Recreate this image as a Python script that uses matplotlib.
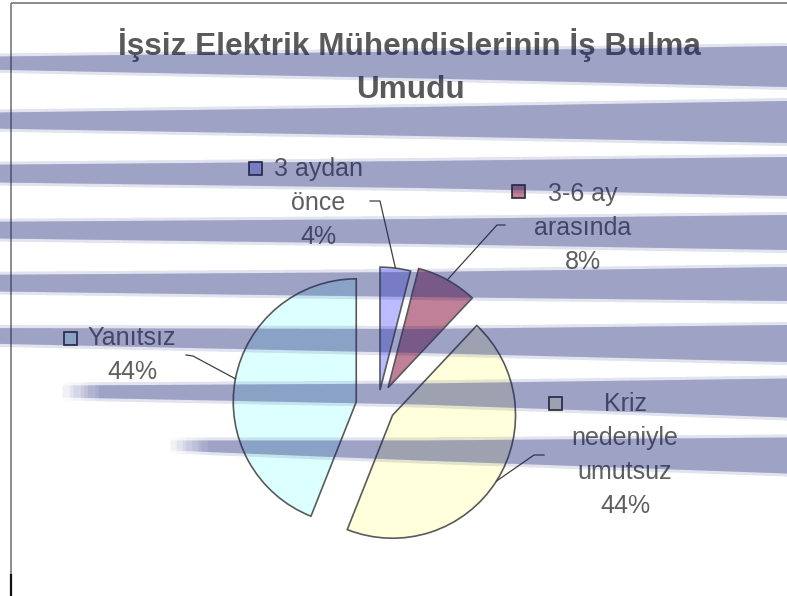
import matplotlib
matplotlib.use("Agg")
import matplotlib.pyplot as plt
from matplotlib.patches import Rectangle
import numpy as np

# ---------------- data ----------------
categories = ["3 aydan önce", "3-6 ay arasında", "Kriz nedeniyle umutsuz", "Yanıtsız"]
label_lines = [["3 aydan", "önce"], ["3-6 ay", "arasında"],
               ["Kriz", "nedeniyle", "umutsuz"], ["Yanıtsız"]]
values = [4, 8, 44, 44]
title_lines = ["İşsiz Elektrik Mühendislerinin İş Bulma", "Umudu"]

# ---------------- style / layout ----------------
colors = ["#BBBBFF", "#C08098", "#FFFFDC", "#DCFFFF"]
explode = [0.13, 0.17, 0.14, 0.18]
W, H, DPI = 787, 596, 100
R = 123            # pie radius in px
CX, CY = 378, 406  # pie centre in px (from top)
L = 1.55

# label layout (pixel coords from top-left)
label_pos = [(318, 176), (583, 201), (625, 411), (132, 345)]   # centre x, first baseline
key_pos = [(249, 162), (512, 185), (549, 397), (64, 332)]      # key top-left
elbow_pos = [((370, 201), (380, 201)), ((505, 225), (497, 225)),
             ((544, 455), (534, 455)), ((186, 355), (193, 356))]
LINE_H = 34

# background streaks: x0, (top,bot) at x0, xm, (top,bot) at xm, (top,bot) at right
streaks = [
    (-40, (57, 69), 450, (51, 79), (46, 87)),
    (-40, (113, 128), 420, (107, 136), (101, 143)),
    (-40, (165, 182), 420, (161, 188), (157, 196)),
    (-40, (222, 238), 420, (219, 244), (215, 250)),
    (-40, (275, 291), 420, (272, 297), (267, 301)),
    (-40, (328, 343), 420, (329, 353), (325, 362)),
    (62, (385, 397), 420, (383, 404), (378, 417)),
    (170, (440, 450), 420, (440, 460), (437, 473)),
]

font = ["Liberation Sans", "DejaVu Sans"]
TEXT_C = "#5F5F5F"

fig = plt.figure(figsize=(W / DPI, H / DPI), dpi=DPI, facecolor="white")

# ---------------- pie ----------------
size = 2 * L * R
ax = fig.add_axes([(CX - L * R) / W, (H - CY - L * R) / H, size / W, size / H])
wedges, _ = ax.pie(values, explode=explode, colors=colors, startangle=90,
                   counterclock=False, radius=1,
                   wedgeprops=dict(edgecolor="#5A5A5A", linewidth=1.2))
ax.set_xlim(-L, L)
ax.set_ylim(-L, L)
ax.set_aspect("auto")
ax.axis("off")
ax.set_zorder(1)

# ---------------- overlay (text etc.) ----------------
ov = fig.add_axes([0, 0, 1, 1])
ov.set_xlim(0, W)
ov.set_ylim(H, 0)
ov.axis("off")
ov.patch.set_alpha(0)
ov.set_zorder(2)

# chart-area border
ov.plot([11, 11], [3, 574], color="#8C8C8C", lw=1.4, solid_capstyle="butt")
ov.plot([11, 11], [574, H], color="#111111", lw=1.6, solid_capstyle="butt")
ov.plot([11, W], [3, 3], color="#8C8C8C", lw=1.4, solid_capstyle="butt")

# title
ov.text(409, 55, title_lines[0], ha="center", va="baseline", fontsize=22.7,
        fontweight="bold", color="#5A5A5A", family=font)
ov.text(410, 98, title_lines[1], ha="center", va="baseline", fontsize=22.7,
        fontweight="bold", color="#5A5A5A", family=font)

# labels
fig.canvas.draw()
to_ov = ov.transData.inverted()
for i, w in enumerate(wedges):
    lines = label_lines[i] + [f"{values[i]}%"]
    x, y0 = label_pos[i]
    for k, s in enumerate(lines):
        ov.text(x, y0 + k * LINE_H, s, ha="center", va="baseline", fontsize=18,
                color=TEXT_C, family=font)
    kx, ky = key_pos[i]
    ov.add_patch(Rectangle((kx, ky), 13, 13, facecolor=colors[i],
                           edgecolor="#2A2A2A", lw=1.2))
    # leader line to wedge mid-angle
    ang = np.deg2rad((w.theta1 + w.theta2) / 2)
    px, py = w.center[0] + w.r * np.cos(ang), w.center[1] + w.r * np.sin(ang)
    disp = ax.transData.transform((px, py))
    ex, ey = to_ov.transform(disp)
    (ax1, ay1), (ax2, ay2) = elbow_pos[i]
    ov.plot([ax1, ax2, ex], [ay1, ay2, ey], color="#404040", lw=0.9)

# ---------------- streak overlay ----------------
st = fig.add_axes([0, 0, 1, 1])
st.set_xlim(0, W)
st.set_ylim(H, 0)
st.axis("off")
st.patch.set_alpha(0)
st.set_zorder(3)

SC = "#283282"
n_layers = 8
fade = 40
def layer_alpha(A, n):
    return 1 - (1 - A) ** (1.0 / n)

for x0, lb, xm, mb, rb in streaks:
    xs = np.linspace(x0, W, 200)
    top = np.interp(xs, [x0, xm, W], [lb[0], mb[0], rb[0]])
    bot = np.interp(xs, [x0, xm, W], [lb[1], mb[1], rb[1]])
    for k in range(n_layers):
        xk = x0 + fade * k / n_layers
        m = xs >= xk
        # fringe
        st.fill_between(xs[m], top[m] - 3, bot[m] + 3, color=SC,
                        alpha=layer_alpha(0.13, n_layers), lw=0)
        st.fill_between(xs[m], top[m], bot[m], color=SC,
                        alpha=layer_alpha(0.34, n_layers), lw=0)

fig.savefig("out.png", dpi=DPI, facecolor="white")
